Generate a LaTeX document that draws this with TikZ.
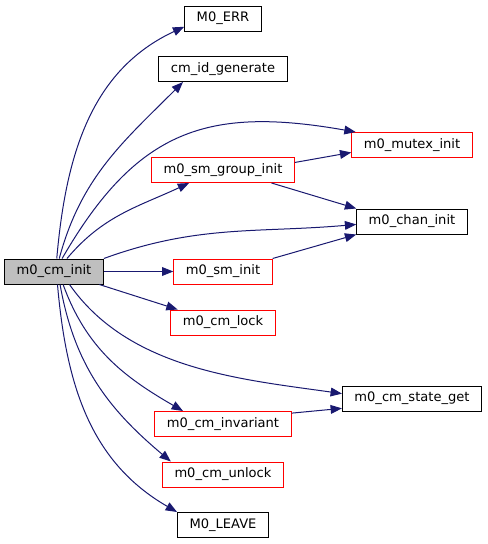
\documentclass[tikz,border=0pt]{standalone}
\usepackage{fontspec}
\setmainfont{DejaVu Sans}
\usetikzlibrary{arrows.meta}
\definecolor{edgeblue}{HTML}{191970}
\definecolor{rootgray}{HTML}{BFBFBF}

\begin{document}
\begin{tikzpicture}[x=0.75pt,y=0.75pt,
    fn/.style={draw=black,line width=0.75pt,minimum height=18.75pt,inner xsep=9pt,inner ysep=0pt,font=\fontsize{9.8}{12}\selectfont},
    fnred/.style={fn,draw=red},
    call/.style={edgeblue,line width=0.75pt,-{Triangle[length=8.5pt,width=6.6pt]}}]
  \useasboundingbox (0,0) rectangle (487,-544);
  \node[fn,fill=rootgray] (init) at (54,-271.5) {m0\_cm\_init};
  \node[fn] (err) at (223,-18.5) {M0\_ERR};
  \node[fn] (idgen) at (223,-69) {cm\_id\_generate};
  \node[fnred] (mutex) at (412,-145) {m0\_mutex\_init};
  \node[fnred] (sgroup) at (223,-170) {m0\_sm\_group\_init};
  \node[fn] (chan) at (412,-221.5) {m0\_chan\_init};
  \node[fnred] (sminit) at (223,-271.5) {m0\_sm\_init};
  \node[fnred] (lock) at (223,-322.5) {m0\_cm\_lock};
  \node[fn] (stateget) at (412,-398.5) {m0\_cm\_state\_get};
  \node[fnred] (invariant) at (223,-424) {m0\_cm\_invariant};
  \node[fnred] (unlock) at (223,-474.5) {m0\_cm\_unlock};
  \node[fn] (leave) at (223,-525) {M0\_LEAVE};
  % calls from m0_cm_init
  \draw[call] (init.78) to[out=85,in=205] (err.192);
  \draw[call] (init.68) to[out=75,in=225] (idgen.198);
  \draw[call] (init.58) to[out=60,in=170,looseness=1.2] (mutex.167);
  \draw[call] (init.45) to[out=50,in=205] (sgroup.201);
  \draw[call] (init.north east) to[out=20,in=185] (chan.183);
  \draw[call] (init.east) -- (sminit.west);
  \draw[call] (init.344) -- (lock.164);
  \draw[call] (init.320) to[out=-55,in=172,looseness=0.9] (stateget.176);
  \draw[call] (init.305) to[out=-70,in=150] (invariant.162);
  \draw[call] (init.295) to[out=-80,in=140] (unlock.166);
  \draw[call] (init.285) to[out=-85,in=150] (leave.north west);
  % second level
  \draw[call] (sgroup.6) -- (mutex.187);
  \draw[call] (sgroup.345) -- (chan.north west);
  \draw[call] (sminit.north east) -- (chan.south west);
  \draw[call] (invariant.9) -- (stateget.188);
\end{tikzpicture}
\end{document}
